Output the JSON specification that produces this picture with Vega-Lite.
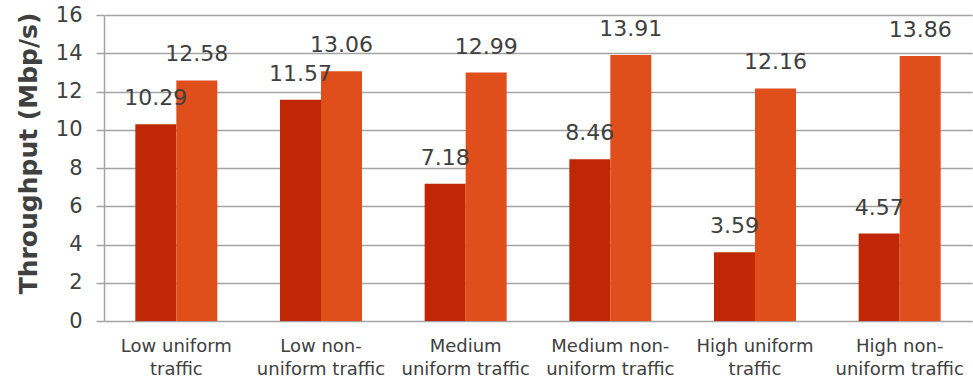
{
  "$schema": "https://vega.github.io/schema/vega-lite/v6.json",
  "autosize": "none",
  "width": 868,
  "height": 306,
  "padding": {"left": 104, "top": 15, "right": 1, "bottom": 61},
  "background": "white",
  "config": {"view": {"stroke": null}, "font": "DejaVu Sans"},
  "data": {"values": [
    {"cat": "Low uniform|traffic", "s": "A", "v": 10.29},
    {"cat": "Low uniform|traffic", "s": "B", "v": 12.58},
    {"cat": "Low non-|uniform traffic", "s": "A", "v": 11.57},
    {"cat": "Low non-|uniform traffic", "s": "B", "v": 13.06},
    {"cat": "Medium|uniform traffic", "s": "A", "v": 7.18},
    {"cat": "Medium|uniform traffic", "s": "B", "v": 12.99},
    {"cat": "Medium non-|uniform traffic", "s": "A", "v": 8.46},
    {"cat": "Medium non-|uniform traffic", "s": "B", "v": 13.91},
    {"cat": "High uniform|traffic", "s": "A", "v": 3.59},
    {"cat": "High uniform|traffic", "s": "B", "v": 12.16},
    {"cat": "High non-|uniform traffic", "s": "A", "v": 4.57},
    {"cat": "High non-|uniform traffic", "s": "B", "v": 13.86}
  ]},
  "encoding": {
    "x": {"field": "cat", "type": "nominal", "sort": null,
      "scale": {"paddingInner": 0.433, "paddingOuter": 0.2165},
      "axis": {"title": null, "labelAngle": 0, "ticks": false, "domain": false,
        "labelExpr": "split(datum.label, '|')", "labelFont": "DejaVu Sans",
        "labelFontSize": 18, "labelColor": "#404040", "labelLineHeight": 23,
        "labelPadding": 16, "labelBaseline": "top"}},
    "xOffset": {"field": "s", "type": "nominal", "sort": ["A", "B"], "scale": {"paddingInner": 0, "paddingOuter": 0}},
    "y": {"field": "v", "type": "quantitative",
      "scale": {"domain": [0, 16], "nice": false},
      "axis": {"title": "Throughput (Mbp/s)", "values": [0,2,4,6,8,10,12,14,16], "grid": true,
        "gridColor": "#a3a3a3", "gridWidth": 1.5, "domainColor": "#a3a3a3", "domainWidth": 1.5,
        "tickColor": "#a3a3a3", "tickWidth": 1.5, "tickSize": 8,
        "labelFont": "DejaVu Sans", "labelFontSize": 21, "labelColor": "#404040", "labelPadding": 14,
        "titleFont": "DejaVu Sans", "titleFontSize": 25, "titleFontWeight": "bold", "titleColor": "#404040",
        "titleX": -76, "titleY": 138, "titleBaseline": "middle", "titleAngle": 270}}
  },
  "layer": [
    {"mark": {"type": "bar"},
     "encoding": {"color": {"field": "s", "type": "nominal", "legend": null,
        "scale": {"domain": ["A", "B"], "range": ["#c02805", "#df4e1b"]}}}},
    {"mark": {"type": "text", "font": "DejaVu Sans", "fontSize": 22, "color": "#404040", "baseline": "alphabetic", "dy": -19},
     "encoding": {"text": {"field": "v", "type": "quantitative", "format": ".2f"}}}
  ]
}
